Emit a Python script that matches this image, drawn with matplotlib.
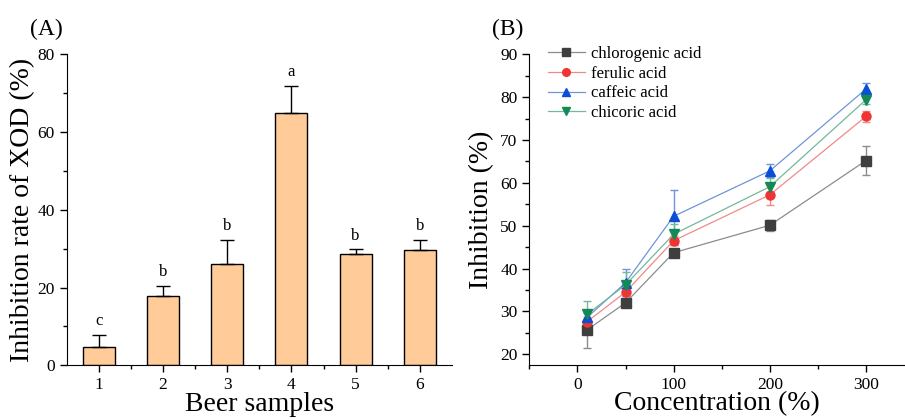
import numpy as np
import matplotlib.pyplot as plt
from matplotlib.ticker import MultipleLocator

plt.rcParams['font.family'] = ['Liberation Serif', 'DejaVu Serif']

# --- Panel A data ---
samples = ['1', '2', '3', '4', '5', '6']
xod_rate = [4.8, 17.7, 26.1, 65.0, 28.5, 29.6]
xod_err = [3.0, 2.8, 6.2, 6.9, 1.3, 2.7]
sig_letters = ['c', 'b', 'b', 'a', 'b', 'b']

# --- Panel B data ---
conc = [10, 50, 100, 200, 300]
chlorogenic = [25.7, 32.0, 43.7, 50.1, 65.2]
chlorogenic_err = [4.3, 0.9, 0.9, 1.3, 3.3]
ferulic = [27.6, 34.5, 46.5, 57.2, 75.5]
ferulic_err = [1.0, 1.0, 1.0, 2.3, 1.2]
caffeic = [28.6, 36.7, 52.2, 62.8, 81.9]
caffeic_err = [1.0, 3.1, 6.2, 1.5, 1.5]
chicoric = [29.3, 36.2, 48.0, 59.1, 79.4]
chicoric_err = [3.2, 3.0, 2.5, 2.0, 1.0]

fig = plt.figure(figsize=(9.05, 4.19), dpi=100)

# ---------------- (A) ----------------
axA = fig.add_axes([0.0737, 0.1282, 0.4257, 0.7422])
xpos = np.arange(1, len(samples) + 1)
axA.bar(xpos, xod_rate, width=0.5, color='#FFCC99', edgecolor='black',
        linewidth=1.0, zorder=2)
axA.errorbar(xpos, xod_rate, yerr=[np.zeros(len(xod_err)), xod_err],
             fmt='none', ecolor='black', elinewidth=1.0, capsize=5,
             capthick=1.0, zorder=3)
for x, v, e, s in zip(xpos, xod_rate, xod_err, sig_letters):
    axA.annotate(s, (x, v + e), xytext=(0, 7), textcoords='offset points',
                 ha='center', va='baseline', fontsize=12)
axA.set_xlim(0.5, 6.5)
axA.set_ylim(0, 80)
axA.set_xticks(xpos)
axA.set_xticklabels(samples)
axA.xaxis.set_minor_locator(plt.FixedLocator(xpos[:-1] + 0.5))
axA.yaxis.set_major_locator(MultipleLocator(20))
axA.yaxis.set_minor_locator(MultipleLocator(10))
axA.set_xlabel('Beer samples', fontsize=20, labelpad=-1)
axA.set_ylabel('Inhibition rate of XOD (%)', fontsize=20, labelpad=2)
axA.text(-0.095, 1.08, '(A)', transform=axA.transAxes, fontsize=17,
         ha='left', va='center')

# ---------------- (B) ----------------
axB = fig.add_axes([0.5849, 0.1289, 0.4145, 0.7415])
series = [
    ('chlorogenic acid', chlorogenic, chlorogenic_err, 's', '#3f3f3f', '#8c8c8c'),
    ('ferulic acid', ferulic, ferulic_err, 'o', '#f03434', '#f08a8a'),
    ('caffeic acid', caffeic, caffeic_err, '^', '#0a4fd6', '#6f95d8'),
    ('chicoric acid', chicoric, chicoric_err, 'v', '#138a55', '#74b89a'),
]
for label, vals, errs, mk, mcol, lcol in series:
    axB.errorbar(conc, vals, yerr=errs, fmt='none', ecolor=lcol,
                 elinewidth=1.0, capsize=3, capthick=1.0, zorder=2)
    axB.plot(conc, vals, color=lcol, linewidth=0.9, marker=mk,
             markersize=6.5, markerfacecolor=mcol, markeredgecolor=mcol,
             label=label, zorder=3)
axB.set_xlim(-50, 340)
axB.set_ylim(17.5, 90)
axB.set_xticks([0, 100, 200, 300])
axB.xaxis.set_minor_locator(MultipleLocator(50))
axB.yaxis.set_major_locator(MultipleLocator(10))
axB.yaxis.set_minor_locator(MultipleLocator(5))
axB.set_xlabel('Concentration (%)', fontsize=20, labelpad=-1)
axB.set_ylabel('Inhibition (%)', fontsize=20, labelpad=4)
axB.legend(loc='upper left', bbox_to_anchor=(0.01, 1.075), frameon=False,
           fontsize=12, handlelength=2.2, labelspacing=0.22,
           handletextpad=0.4, markerscale=0.85)
axB.text(-0.1, 1.08, '(B)', transform=axB.transAxes, fontsize=17,
         ha='left', va='center')

for ax in (axA, axB):
    ax.spines['top'].set_visible(False)
    ax.spines['right'].set_visible(False)
    ax.tick_params(axis='both', which='major', direction='out', length=5,
                   width=1.0, labelsize=12.5)
    ax.tick_params(axis='both', which='minor', direction='out', length=3,
                   width=1.0)

fig.savefig('out.png', dpi=100)
